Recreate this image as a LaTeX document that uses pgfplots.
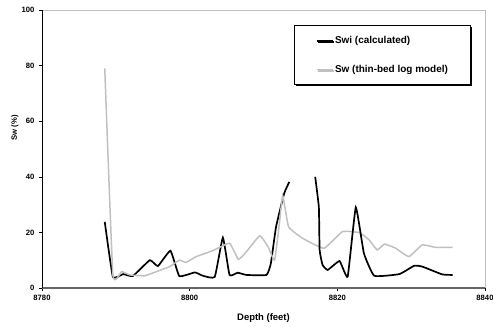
\documentclass[border=0pt]{standalone}
\usepackage{fontspec}
\setmainfont{Liberation Sans}
\usepackage{pgfplots}
\pgfplotsset{compat=1.18}
\usetikzlibrary{shadows}
\definecolor{swgray}{RGB}{192,192,192}
\definecolor{axgray}{RGB}{100,100,100}
\begin{document}
\begin{tikzpicture}
\useasboundingbox (-42bp,-39bp) rectangle (451bp,288bp);
\begin{axis}[
  scale only axis, width=443bp, height=278bp,
  xmin=8780, xmax=8840, ymin=0, ymax=100,
  xtick={8780,8800,8820,8840}, ytick={0,20,40,60,80,100},
  xticklabel style={/pgf/number format/1000 sep={}, yshift=-1bp},
  yticklabel style={xshift=-1bp},
  /pgf/number format/assume math mode=true,
  tick label style={font=\fontsize{7.7}{8}\selectfont\bfseries},
  xlabel={Depth (feet)}, ylabel={Sw (\%)},
  xlabel style={font=\fontsize{9.5}{10}\selectfont\bfseries, at={(axis description cs:0.5,-0.107)}, anchor=center},
  ylabel style={font=\fontsize{7.7}{8}\selectfont\bfseries, at={(axis description cs:-0.061,0.576)}, anchor=center},
  axis line style={draw=none},
  tick align=outside, xtick pos=bottom, ytick pos=left,
  major tick length=3bp,
  every tick/.style={black, line width=0.6pt},
  legend style={at={(0.968,0.946)}, anchor=north east, draw=black, line width=0.8pt,
    font=\fontsize{10}{11}\selectfont\bfseries, inner xsep=21bp, inner ysep=11bp,
    row sep=20bp, legend cell align=left,
    nodes={inner xsep=1.5bp, inner ysep=0bp},
    drop shadow={shadow xshift=1.5pt, shadow yshift=-1.5pt, fill=black, opacity=1}},
  legend image code/.code={\draw[#1] (0bp,0bp) -- (16bp,0bp);},
  clip=false,
]
\draw[swgray, line width=0.9pt] (rel axis cs:0,1) -- (rel axis cs:1,1) -- (rel axis cs:1,0);
\draw[axgray, line width=1.2pt] (rel axis cs:0,0) -- (rel axis cs:1,0);
\draw[black, line width=1pt] (rel axis cs:0,0) -- (rel axis cs:0,1);
\addplot[black, line width=1.7pt, smooth, tension=0.22] coordinates {
(8788.5,23.8) (8789.6,4) (8791,5) (8792.3,4.3) (8794.6,10) (8795.7,7.9)
(8797.4,13.4) (8798.6,4.3) (8800.7,5.6) (8801.8,4.4) (8803.4,4) (8804.5,18.1)
(8805.4,4.7) (8806.5,5.5) (8807.7,4.7) (8810.4,4.7) (8811,8.9) (8811.7,22)
(8812.8,34) (8813.5,38.2)};
\addlegendentry{Swi (calculated)}
\addplot[swgray, line width=1.5pt, smooth, tension=0.22] coordinates {
(8788.5,79) (8789.6,4.7) (8790.8,5.9) (8791.9,4.7) (8793.9,4.4) (8795.5,5.9)
(8797.3,7.7) (8798.6,10) (8799.5,9.2) (8800.9,11.3) (8803.1,13.4) (8805.4,16.1)
(8806.6,10.3) (8807.7,13.1) (8809.5,18.8) (8810.6,14.9) (8811.5,10) (8812.1,22)
(8812.6,33.2) (8813.4,22) (8815.3,17.9) (8818.2,14.3) (8820.7,20.3) (8823,19.9)
(8824.3,17.3) (8825.4,13.7) (8826.4,15.8) (8827.9,14.3) (8829.7,11.3) (8831.5,15.5)
(8833.3,14.6) (8835.6,14.6)};
\addlegendentry{Sw (thin-bed log model)}
\addplot[black, line width=1.7pt, smooth, tension=0.22, forget plot] coordinates {
(8817,40) (8817.5,29) (8817.6,13.7) (8818,8.3) (8818.7,6.5) (8820.3,9.7)
(8821.4,4.1) (8822.5,29) (8823.6,12.5) (8825,4.4) (8828.4,5) (8830.4,8)
(8831.5,7.7) (8834.2,4.9) (8835.6,4.7)};
\end{axis}
\end{tikzpicture}
\end{document}
